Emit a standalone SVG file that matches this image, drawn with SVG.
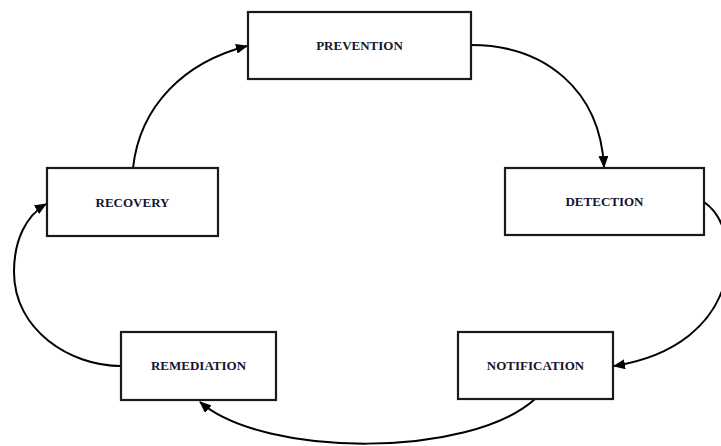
<svg xmlns="http://www.w3.org/2000/svg" width="721" height="446" viewBox="0 0 721 446">
<style>
.box{fill:#fff;stroke:#1a1a1a;stroke-width:2.2}
.lbl{font-family:"Liberation Serif","Times New Roman",serif;font-weight:bold;font-size:13px;fill:#151530;text-anchor:middle}
.con{fill:none;stroke:#000;stroke-width:2;marker-end:url(#ah)}
</style>
<defs>
<marker id="ah" markerUnits="userSpaceOnUse" markerWidth="12" markerHeight="10" viewBox="0 0 12 10" refX="11" refY="5" orient="auto">
<path d="M0,0 L12,5 L0,10 Z" fill="#000"/>
</marker>
</defs>
<rect width="721" height="446" fill="#fff"/>
<g id="connectors">
<path class="con" d="M133,168 C140,105 185,62 247,46"/>
<path class="con" d="M471,45 C545,45 600,90 604,167"/>
<path class="con" d="M704,202 C745,230 745,345 614,366"/>
<path class="con" d="M535,399 C470,458 265,458 200,402"/>
<path class="con" d="M121,366 C70,366 14,330 14,272 C14,240 26,216 46,204"/>
</g>
<g id="prevention"><rect class="box" x="248" y="12" width="223" height="67"/><text class="lbl" x="359.5" y="49.5">PREVENTION</text></g>
<g id="detection"><rect class="box" x="505" y="168" width="199" height="67"/><text class="lbl" x="604.5" y="206">DETECTION</text></g>
<g id="notification"><rect class="box" x="458" y="332" width="155" height="67"/><text class="lbl" x="535.5" y="370">NOTIFICATION</text></g>
<g id="remediation"><rect class="box" x="121" y="332" width="155" height="68"/><text class="lbl" x="198.5" y="370">REMEDIATION</text></g>
<g id="recovery"><rect class="box" x="47" y="168" width="171" height="68"/><text class="lbl" x="132.5" y="206.5">RECOVERY</text></g>
</svg>
